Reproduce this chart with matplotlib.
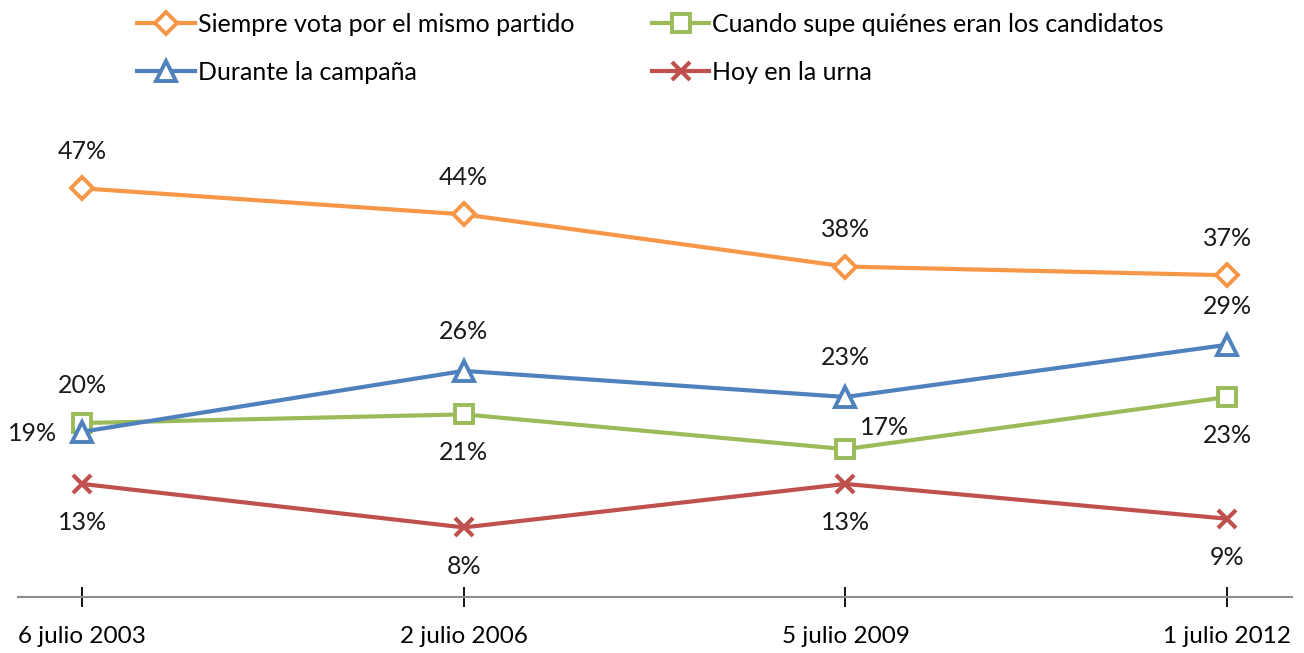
import matplotlib.pyplot as plt

fechas = ["6 julio 2003", "2 julio 2006", "5 julio 2009", "1 julio 2012"]
siempre = [47, 44, 38, 37]
candidatos = [20, 21, 17, 23]
campana = [19, 26, 23, 29]
urna = [13, 8, 13, 9]

# offsets in pixels for the data labels (dx, dy)
pos_siempre = [(0, 37)] * 4
pos_candidatos = [(0, 38), (0, -38), (39, 22), (0, -39)]
pos_campana = [(-50, -2), (0, 39), (0, 39), (0, 38)]
pos_urna = [(0, -39)] * 4

plt.rcParams["font.family"] = ["Lato", "DejaVu Sans"]

fig = plt.figure(figsize=(13.04, 6.53), dpi=100)
ax = fig.add_axes([0.0138, 0.0858, 0.977, 0.7457])

x = list(range(len(fechas)))
series = [
    ("Siempre vota por el mismo partido", siempre, "#F79646", "D", 11, pos_siempre),
    ("Cuando supe quiénes eran los candidatos", candidatos, "#9BBB59", "s", 13, pos_candidatos),
    ("Durante la campaña", campana, "#4F81BD", "^", 15, pos_campana),
    ("Hoy en la urna", urna, "#C0504D", "x", 13, pos_urna),
]

handles = {}
for name, vals, col, mk, ms, offs in series:
    fill = col if mk == "x" else "white"
    ln, = ax.plot(x, vals, color=col, lw=3, marker=mk, ms=ms, mfc=fill,
                  mec=col, mew=3 if mk == "x" else 2.8, label=name, clip_on=False)
    handles[name] = ln
    for xi, v, (dx, dy) in zip(x, vals, offs):
        ax.annotate(f"{v}%", (xi, v), xytext=(dx, dy), textcoords="offset pixels",
                    ha="center", va="center", fontsize=18, color="#1a1a1a")

ax.set_xlim(-0.168, 3.17)
ax.set_ylim(0, 56)
ax.set_xticks(x)
ax.set_xticklabels(fechas, fontsize=17.5)
ax.set_yticks([])
for s in ["top", "right", "left"]:
    ax.spines[s].set_visible(False)
ax.spines["bottom"].set_color("#8c8c8c")
ax.spines["bottom"].set_linewidth(1.5)
ax.tick_params(axis="x", direction="inout", length=14, width=1.3, color="black", pad=14)

order = ["Siempre vota por el mismo partido", "Durante la campaña",
         "Cuando supe quiénes eran los candidatos", "Hoy en la urna"]
fig.legend([handles[n] for n in order], order, ncol=2, loc="upper left",
           bbox_to_anchor=(0.088, 1.015), frameon=False, fontsize=18,
           handlelength=2.3, handletextpad=0.12, columnspacing=3.1, labelspacing=1.0)

fig.savefig("out.png", dpi=100)
